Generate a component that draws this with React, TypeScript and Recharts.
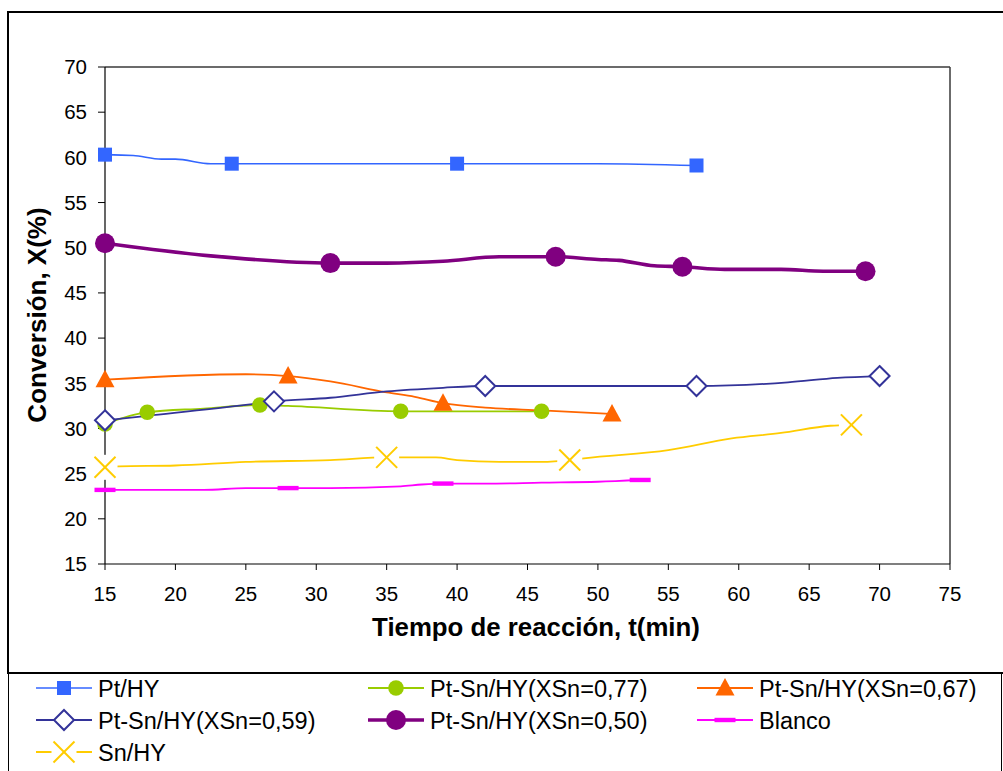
import React from 'react';
import { LineChart, Line, XAxis, YAxis, ReferenceLine } from 'recharts';

// Axis ticks
const timeTicks = [15, 20, 25, 30, 35, 40, 45, 50, 55, 60, 65, 70, 75];
const convTicks = [15, 20, 25, 30, 35, 40, 45, 50, 55, 60, 65, 70];

// Pt/HY
const ptHyT = [15, 17, 19, 20, 22.5, 24, 40, 50, 57];
const ptHyX = [60.3, 60.2, 59.8, 59.8, 59.3, 59.3, 59.3, 59.3, 59.1];
const ptHyMarks = [15, 24, 40, 57];

// Pt-Sn/HY (XSn = 0,77)
const ptSn77T = [15, 18, 22, 26, 28, 36, 46];
const ptSn77X = [30.5, 31.8, 32.2, 32.6, 32.5, 31.9, 31.9];
const ptSn77Marks = [15, 18, 26, 36, 46];

// Pt-Sn/HY (XSn = 0,67)
const ptSn67T = [15, 25, 28, 31, 35, 37, 39, 42, 46, 51];
const ptSn67X = [35.4, 36.0, 35.8, 35.2, 34.0, 33.5, 32.8, 32.3, 32.0, 31.6];
const ptSn67Marks = [15, 28, 39, 51];

// Pt-Sn/HY (XSn = 0,59)
const ptSn59T = [15, 18, 25, 27, 31, 35, 39, 42, 57, 63.5, 67, 70];
const ptSn59X = [30.9, 31.4, 32.6, 33.0, 33.4, 34.1, 34.5, 34.7, 34.7, 35.1, 35.6, 35.8];
const ptSn59Marks = [15, 27, 42, 57, 70];

// Pt-Sn/HY (XSn = 0,50)
const ptSn50T = [15, 22.5, 31, 35, 39, 43, 47, 50, 51.5, 54, 56, 59, 63, 66, 69];
const ptSn50X = [50.5, 49.1, 48.3, 48.3, 48.5, 49.0, 49.0, 48.7, 48.6, 48.0, 47.9, 47.6, 47.6, 47.4, 47.4];
const ptSn50Marks = [15, 31, 47, 56, 69];

// Blanco
const blancoT = [15, 22, 25, 28, 31, 36, 37.5, 39, 42, 46, 50, 53];
const blancoX = [23.2, 23.2, 23.4, 23.4, 23.4, 23.6, 23.8, 23.9, 23.9, 24.0, 24.1, 24.3];
const blancoMarks = [15, 28, 39, 53];

// Sn/HY
const snHyT = [15, 16, 20, 25, 31, 35, 38.5, 40, 43, 46, 48, 49, 55, 59.5, 63, 66.5, 68];
const snHyX = [25.7, 25.8, 25.9, 26.3, 26.5, 26.8, 26.8, 26.5, 26.3, 26.3, 26.5, 26.7, 27.6, 28.9, 29.5, 30.3, 30.4];
const snHyMarks = [15, 35, 48, 68];

type MarkerKind = 'square' | 'circle' | 'bigCircle' | 'triangle' | 'diamond' | 'dash' | 'cross';

interface Series {
  name: string;
  color: string;
  width: number;
  marker: MarkerKind;
  t: number[];
  x: number[];
  marks: number[];
}

const series: Series[] = [
  { name: 'Pt/HY', color: '#3366FF', width: 1.6, marker: 'square', t: ptHyT, x: ptHyX, marks: ptHyMarks },
  { name: 'Pt-Sn/HY(XSn=0,77)', color: '#99CC00', width: 1.8, marker: 'circle', t: ptSn77T, x: ptSn77X, marks: ptSn77Marks },
  { name: 'Pt-Sn/HY(XSn=0,67)', color: '#FF6600', width: 1.8, marker: 'triangle', t: ptSn67T, x: ptSn67X, marks: ptSn67Marks },
  { name: 'Pt-Sn/HY(XSn=0,59)', color: '#333399', width: 1.8, marker: 'diamond', t: ptSn59T, x: ptSn59X, marks: ptSn59Marks },
  { name: 'Pt-Sn/HY(XSn=0,50)', color: '#800080', width: 3.6, marker: 'bigCircle', t: ptSn50T, x: ptSn50X, marks: ptSn50Marks },
  { name: 'Blanco', color: '#FF00FF', width: 1.8, marker: 'dash', t: blancoT, x: blancoX, marks: blancoMarks },
  { name: 'Sn/HY', color: '#FFCC00', width: 1.8, marker: 'cross', t: snHyT, x: snHyX, marks: snHyMarks },
];

// Legend grid: three columns, rows filled left to right
const legendCols = [36, 368, 697];
const legendRows = [688, 720, 752];

const FONT = '"Liberation Sans", Arial, Helvetica, sans-serif';

function Marker({ kind, color, cx, cy }: { kind: MarkerKind; color: string; cx: number; cy: number }) {
  switch (kind) {
    case 'square':
      return <rect x={cx - 7} y={cy - 7} width={14} height={14} fill={color} />;
    case 'circle':
      return <circle cx={cx} cy={cy} r={7.8} fill={color} />;
    case 'bigCircle':
      return <circle cx={cx} cy={cy} r={10} fill={color} />;
    case 'triangle':
      return <polygon points={`${cx},${cy - 10} ${cx + 9.5},${cy + 7.5} ${cx - 9.5},${cy + 7.5}`} fill={color} />;
    case 'diamond':
      return (
        <polygon
          points={`${cx},${cy - 10} ${cx + 10},${cy} ${cx},${cy + 10} ${cx - 10},${cy}`}
          fill="#fff"
          stroke={color}
          strokeWidth={2}
        />
      );
    case 'dash':
      return <rect x={cx - 10.5} y={cy - 2.2} width={21} height={4.4} fill={color} />;
    case 'cross':
      return (
        <g>
          <rect x={cx - 12.5} y={cy - 12.5} width={25} height={25} fill="#fff" />
          <line x1={cx - 10.5} y1={cy - 10.5} x2={cx + 10.5} y2={cy + 10.5} stroke={color} strokeWidth={2} />
          <line x1={cx - 10.5} y1={cy + 10.5} x2={cx + 10.5} y2={cy - 10.5} stroke={color} strokeWidth={2} />
        </g>
      );
    default:
      return null;
  }
}

const makeDot = (s: Series) => (props: any) => {
  const { cx, cy, payload, index } = props;
  if (!payload || !s.marks.includes(payload.t) || cx == null || cy == null) {
    return <g key={`d-${s.name}-${index}`} />;
  }
  return (
    <g key={`d-${s.name}-${index}`}>
      <Marker kind={s.marker} color={s.color} cx={cx} cy={cy} />
    </g>
  );
};

export default function App() {
  return (
    <div
      style={{
        position: 'absolute',
        left: 0,
        top: 0,
        width: 1003,
        height: 771,
        overflow: 'hidden',
        background: '#fff',
        fontFamily: FONT,
      }}
    >
      {/* chart frame */}
      <div
        style={{
          position: 'absolute',
          left: 7,
          top: 11,
          width: 1020,
          height: 663,
          border: '2px solid #000',
          boxSizing: 'border-box',
        }}
      />
      {/* legend frame */}
      <div
        style={{
          position: 'absolute',
          left: 8,
          top: 672,
          width: 994,
          height: 120,
          border: '1px solid #000',
          boxSizing: 'border-box',
        }}
      />

      <div style={{ position: 'absolute', left: 0, top: 0 }}>
        <LineChart width={1003} height={660} margin={{ top: 67, right: 53, bottom: 56, left: 55 }}>
          <XAxis
            type="number"
            dataKey="t"
            domain={[15, 75]}
            ticks={timeTicks}
            interval={0}
            height={40}
            tickSize={6}
            tickMargin={16}
            axisLine={{ stroke: '#000', strokeWidth: 1.2 }}
            tickLine={{ stroke: '#000', strokeWidth: 1 }}
            tick={{ fontSize: 20.5, fill: '#000', fontFamily: FONT }}
            allowDecimals={false}
          />
          <YAxis
            type="number"
            domain={[15, 70]}
            ticks={convTicks}
            interval={0}
            width={50}
            tickSize={7}
            tickMargin={11}
            axisLine={{ stroke: '#000', strokeWidth: 1.2 }}
            tickLine={{ stroke: '#000', strokeWidth: 1 }}
            tick={{ fontSize: 20.5, fill: '#000', fontFamily: FONT }}
          />
          <ReferenceLine y={70} stroke="#3a3a3a" strokeWidth={1.5} />
          <ReferenceLine x={75} stroke="#3a3a3a" strokeWidth={1.5} />
          {series.map((s) => (
            <Line
              key={s.name}
              data={s.t.map((t, i) => ({ t, x: s.x[i] }))}
              dataKey="x"
              name={s.name}
              type="monotone"
              stroke={s.color}
              strokeWidth={s.width}
              dot={makeDot(s)}
              activeDot={false}
              isAnimationActive={false}
            />
          ))}
        </LineChart>
      </div>

      {/* axis titles and legend */}
      <svg
        width={1003}
        height={771}
        style={{ position: 'absolute', left: 0, top: 0, pointerEvents: 'none' }}
        fontFamily={FONT}
      >
        <text x={536} y={636} textAnchor="middle" fontSize={25.8} fontWeight="bold" fill="#000">
          Tiempo de reacción, t(min)
        </text>
        <text
          transform="translate(46,315) rotate(-90)"
          textAnchor="middle"
          fontSize={26}
          fontWeight="bold"
          fill="#000"
        >
          Conversión, X(%)
        </text>
        {series.map((s, i) => {
          const x0 = legendCols[i % 3];
          const y = legendRows[Math.floor(i / 3)];
          return (
            <g key={`lg-${s.name}`}>
              <line x1={x0} y1={y} x2={x0 + 56} y2={y} stroke={s.color} strokeWidth={s.width} />
              <Marker kind={s.marker} color={s.color} cx={x0 + 28} cy={y} />
              <text x={x0 + 62} y={y + 8.5} fontSize={23.5} fill="#000">
                {s.name}
              </text>
            </g>
          );
        })}
      </svg>
    </div>
  );
}
